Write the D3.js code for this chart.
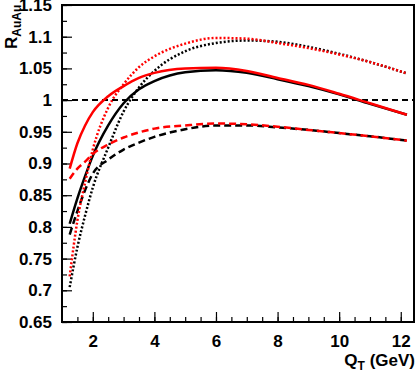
<!DOCTYPE html>
<html>
<head>
<meta charset="utf-8">
<script src="https://cdn.jsdelivr.net/npm/d3@7"></script>
<style>
  body { margin: 0; background: #fff; }
  text { font-family: "Liberation Sans", Arial, sans-serif; font-weight: bold; }
</style>
</head>
<body>
<div id="chart"></div>
<script>
const w = 416;
const h = 373;
const padL = 62, padT = 5, padR = 414, padB = 322;

// Q_T values (GeV) where the curves were read
const qt = [1.25, 1.5, 1.75, 2, 2.5, 3, 3.5, 4, 5, 6, 7, 8, 9, 10, 11, 12.2];

// R_AuAu for each curve
const redSolid    = [0.892, 0.932, 0.960, 0.981, 1.006, 1.022, 1.035, 1.043, 1.050, 1.051, 1.046, 1.035, 1.024, 1.010, 0.995, 0.977];
const blackSolid  = [0.805, 0.845, 0.880, 0.912, 0.960, 0.995, 1.017, 1.030, 1.044, 1.047, 1.043, 1.033, 1.022, 1.009, 0.994, 0.977];
const redDotted   = [0.722, 0.810, 0.870, 0.922, 0.988, 1.025, 1.052, 1.069, 1.089, 1.098, 1.097, 1.090, 1.082, 1.072, 1.060, 1.042];
const blackDotted = [0.705, 0.768, 0.818, 0.862, 0.925, 0.982, 1.020, 1.046, 1.077, 1.090, 1.094, 1.092, 1.084, 1.073, 1.060, 1.042];
const redDashed   = [0.876, 0.892, 0.903, 0.915, 0.930, 0.941, 0.949, 0.955, 0.960, 0.963, 0.962, 0.958, 0.953, 0.948, 0.943, 0.936];
const blackDashed = [0.788, 0.825, 0.858, 0.884, 0.906, 0.922, 0.933, 0.942, 0.954, 0.960, 0.960, 0.957, 0.953, 0.948, 0.943, 0.936];

const xTicks = [2, 4, 6, 8, 10, 12];
const yTicks = [0.65, 0.7, 0.75, 0.8, 0.85, 0.9, 0.95, 1, 1.05, 1.1, 1.15];

const svg = d3.select('#chart').
append('svg').
attr('width', w).
attr('height', h);

const xScale = d3.scaleLinear().domain([1, 12.43]).range([padL, padR]);
const yScale = d3.scaleLinear().domain([0.65, 1.15]).range([padB, padT]);

// minor ticks
svg.append('g').
attr('transform', 'translate(0,' + padB + ')').
call(d3.axisBottom(xScale).tickValues(d3.range(1.5, 12.45, 0.5)).tickSize(-5).tickFormat('')).
call(g => g.select('.domain').remove());

svg.append('g').
attr('transform', 'translate(' + padL + ',0)').
call(d3.axisLeft(yScale).tickValues(d3.range(0, 21).map(i => 0.65 + i * 0.025)).tickSize(-5).tickFormat('')).
call(g => g.select('.domain').remove());

// major ticks + labels
svg.append('g').
attr('transform', 'translate(0,' + padB + ')').
call(d3.axisBottom(xScale).tickValues(xTicks).tickSize(-10).tickPadding(13).tickFormat(d3.format('d'))).
call(g => g.select('.domain').remove()).
selectAll('text').attr('font-size', 17).attr('fill', '#000');

svg.append('g').
attr('transform', 'translate(' + padL + ',0)').
call(d3.axisLeft(yScale).tickValues(yTicks).tickSize(-10).tickPadding(10).tickFormat(d => String(+d.toFixed(2)))).
call(g => g.select('.domain').remove()).
selectAll('text').attr('font-size', 17).attr('fill', '#000');

svg.selectAll('.tick line').attr('stroke', '#000').attr('stroke-width', 1.2);

// reference line at 1
svg.append('line').
attr('x1', padL).attr('x2', padR).
attr('y1', yScale(1)).attr('y2', yScale(1)).
attr('stroke', '#000').attr('stroke-width', 2).
attr('stroke-dasharray', '6,4');

const line = d3.line().
x(d => xScale(d[0])).
y(d => yScale(d[1])).
curve(d3.curveMonotoneX);

const curves = [
  { vals: blackDashed, color: '#000', dash: '7,4' },
  { vals: blackDotted, color: '#000', dash: '2,2' },
  { vals: blackSolid, color: '#000', dash: null },
  { vals: redDashed, color: '#ff0000', dash: '7,4' },
  { vals: redDotted, color: '#ff0000', dash: '2,2' },
  { vals: redSolid, color: '#ff0000', dash: null }];

curves.forEach(c => {
  svg.append('path').
  datum(qt.map((q, i) => [q, c.vals[i]])).
  attr('d', line).
  attr('fill', 'none').
  attr('stroke', c.color).
  attr('stroke-width', 2.5).
  attr('stroke-dasharray', c.dash);
});

// frame
svg.append('rect').
attr('x', padL).attr('y', padT).
attr('width', padR - padL).attr('height', padB - padT).
attr('fill', 'none').attr('stroke', '#000').attr('stroke-width', 2);

// axis titles
const xt = svg.append('text').
attr('x', padR + 1).attr('y', 366).
attr('text-anchor', 'end').
attr('font-size', 17);
xt.append('tspan').text('Q');
xt.append('tspan').attr('font-size', 12).attr('dy', 4).text('T');
xt.append('tspan').attr('dy', -4).text(' (GeV)');

const yt = svg.append('text').
attr('transform', 'translate(17,49) rotate(-90)').
attr('font-size', 17);
yt.append('tspan').text('R');
yt.append('tspan').attr('font-size', 12).attr('dy', 4).text('AuAu');
</script>
</body>
</html>
